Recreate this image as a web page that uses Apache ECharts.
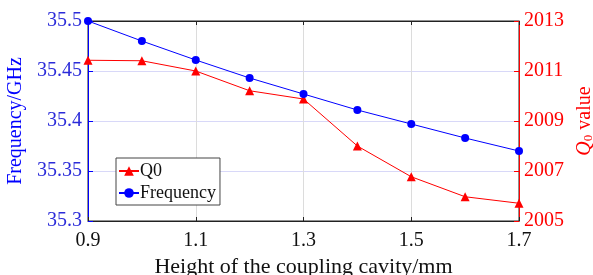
<!DOCTYPE html>
<html>
<head>
<meta charset="utf-8">
<script src="https://cdn.jsdelivr.net/npm/echarts@6/dist/echarts.min.js"></script>
<style>
  html, body { margin: 0; padding: 0; background: #fff; }
  #chart { width: 593px; height: 275px; }
</style>
</head>
<body>
<div id="chart"></div>
<script>
// data
var heights = ["0.9", "1.0", "1.1", "1.2", "1.3", "1.4", "1.5", "1.6", "1.7"];
var freqValues = [35.5, 35.48, 35.461, 35.443, 35.427, 35.411, 35.397, 35.383, 35.37];
var q0Values = [2011.43, 2011.41, 2011.0, 2010.21, 2009.88, 2008.0, 2006.77, 2005.97, 2005.71];

var font = "Liberation Serif";
var blue = "#0000ff";
var red = "#ff0000";

var myChart = echarts.init(document.getElementById("chart"));

var option = {
  backgroundColor: "#fff",
  animation: false,
  grid: {
    left: 88,
    right: 74,
    top: 21,
    bottom: 54,
    outerBoundsMode: "none",
    containLabel: false,
    show: true,
    borderColor: "#222",
    borderWidth: 1
  },
  legend: {
    orient: "vertical",
    left: 116,
    top: 158,
    data: ["Q0", "Frequency"],
    itemWidth: 20,
    itemHeight: 12,
    itemGap: 4,
    padding: [4, 4, 3, 2],
    borderColor: "#444",
    borderWidth: 1,
    backgroundColor: "#fff",
    textStyle: { fontFamily: font, fontSize: 18, color: "#111", padding: [0, 0, 0, -4] }
  },
  xAxis: [
    {
      type: "category",
      data: heights,
      boundaryGap: false,
      name: "Height of the coupling cavity/mm",
      nameLocation: "middle",
      nameGap: 35,
      nameTextStyle: { fontFamily: font, fontSize: 22, color: "#111" },
      axisLine: { lineStyle: { color: "#222", width: 1 } },
      axisTick: { inside: true, interval: 1, length: 4, lineStyle: { color: "#222" } },
      axisLabel: { interval: 1, fontFamily: font, fontSize: 20, color: "#111", margin: 10 },
      splitLine: { show: true, interval: 1, lineStyle: { color: "#dcdcdc", width: 1 } }
    },
    {
      type: "category",
      data: heights,
      boundaryGap: false,
      position: "top",
      axisLine: { lineStyle: { color: "#222", width: 1 } },
      axisTick: { inside: true, interval: 1, length: 4, lineStyle: { color: "#222" } },
      axisLabel: { show: false },
      splitLine: { show: false }
    }
  ],
  yAxis: [
    {
      type: "value",
      min: 35.3,
      max: 35.5,
      interval: 0.05,
      name: "Frequency/GHz",
      nameLocation: "middle",
      nameGap: 57,
      nameTextStyle: { fontFamily: font, fontSize: 20, color: blue },
      axisLine: { show: true, lineStyle: { color: blue, width: 1 } },
      axisTick: { show: true, inside: true, length: 5, lineStyle: { color: blue } },
      axisLabel: {
        fontFamily: font, fontSize: 20, color: "#2b2bd9", margin: 6,
        formatter: function (v) { return String(+v.toFixed(2)); }
      },
      splitLine: { show: true, lineStyle: { color: "#d8d8f8", width: 1 } }
    },
    {
      type: "value",
      min: 2005,
      max: 2013,
      interval: 2,
      position: "right",
      name: "{q|Q}{s|0}{t| value}",
      nameLocation: "middle",
      nameGap: 54,
      nameTextStyle: {
        fontFamily: font, fontSize: 20, color: red,
        rich: {
          q: { fontFamily: font, fontSize: 20, fontStyle: "italic", color: red },
          s: { fontFamily: font, fontSize: 13, color: red, verticalAlign: "bottom", padding: [8, 0, 0, 0] },
          t: { fontFamily: font, fontSize: 20, color: red }
        }
      },
      axisLine: { show: true, lineStyle: { color: red, width: 1 } },
      axisTick: { show: true, inside: true, length: 5, lineStyle: { color: red } },
      axisLabel: {
        fontFamily: font, fontSize: 20, color: red, margin: 5,
        formatter: function (v) { return String(Math.round(v)); }
      },
      splitLine: { show: false }
    }
  ],
  series: [
    {
      name: "Q0",
      type: "line",
      xAxisIndex: 0,
      yAxisIndex: 1,
      data: q0Values,
      symbol: "triangle",
      symbolSize: 9,
      showAllSymbol: true,
      itemStyle: { color: red },
      lineStyle: { color: red, width: 1 },
      z: 3
    },
    {
      name: "Frequency",
      type: "line",
      xAxisIndex: 0,
      yAxisIndex: 0,
      data: freqValues,
      symbol: "circle",
      symbolSize: 8,
      showAllSymbol: true,
      itemStyle: { color: blue },
      lineStyle: { color: blue, width: 1 },
      z: 4
    }
  ]
};

myChart.setOption(option);
</script>
</body>
</html>
